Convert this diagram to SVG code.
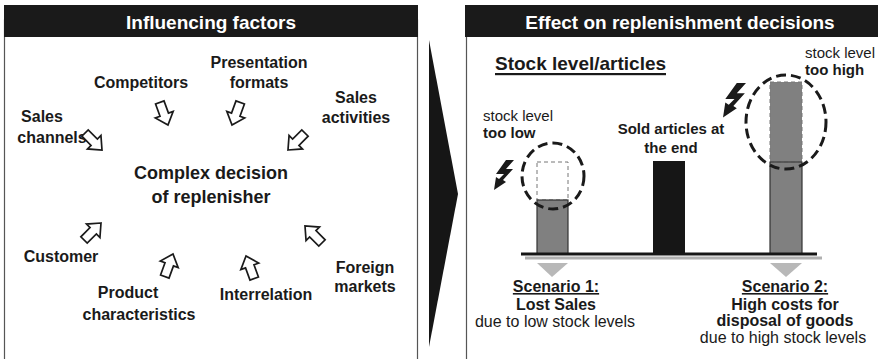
<svg xmlns="http://www.w3.org/2000/svg" width="878" height="359" viewBox="0 0 878 359">
  <defs>
    <style>
      text { font-family: "Liberation Sans", Arial, sans-serif; fill: #1a1a1a; }
      .hdr { font-size: 19px; font-weight: bold; fill: #ffffff; text-anchor: middle; }
      .f { font-size: 16px; font-weight: bold; text-anchor: middle; }
      .c { font-size: 18px; font-weight: bold; text-anchor: middle; }
      .b15 { font-size: 15px; font-weight: bold; }
      .r15 { font-size: 15px; }
      .s { font-size: 16px; text-anchor: middle; }
      .sb { font-size: 16px; font-weight: bold; text-anchor: middle; }
      .bar { fill: #1a1a1a; }
      .frame { fill: none; stroke: #555; stroke-width: 1.2; }
      .blk { fill: #ffffff; stroke: #1a1a1a; stroke-width: 1.7; stroke-linejoin: miter; }
      .ring { fill: none; stroke: #1a1a1a; stroke-width: 3; stroke-dasharray: 10 5; }
      .stock { fill: #808080; stroke: #333; stroke-width: 1.2; }
      .ghost { fill: none; stroke: #777; stroke-width: 1; stroke-dasharray: 4 3; }
      .tri { fill: #b8b8b8; }
      .bolt { fill: #1a1a1a; }
    </style>
    <!-- hollow block arrow, tip at origin, pointing down -->
    <polygon id="blockArrow" class="blk" points="0,0 9.5,-11 4.5,-11 4.5,-24 -4.5,-24 -4.5,-11 -9.5,-11"/>
    <!-- lightning bolt with arrowhead -->
    <polygon id="zap" class="bolt" points="12,0 20,0 12,9 19,9 9,20 12,22 0,30 2,17 5,19 10,14 2,14"/>
  </defs>

  <!-- left panel: influencing factors -->
  <g id="panel-factors">
    <rect class="frame" x="4.5" y="20" width="413" height="360"/>
    <rect class="bar" x="4" y="5" width="414" height="32"/>
    <text class="hdr" x="211" y="29">Influencing factors</text>
  </g>

  <!-- transition chevron -->
  <g id="chevron">
    <polygon fill="#161616" points="429,40 458,194 429,347"/>
  </g>

  <!-- right panel: effect on replenishment -->
  <g id="panel-effect">
    <line x1="466.5" y1="37" x2="466.5" y2="359" stroke="#555" stroke-width="1.2"/>
    <rect class="bar" x="465" y="5" width="413" height="32"/>
    <text class="hdr" x="680" y="29">Effect on replenishment decisions</text>
  </g>

  <!-- factor nodes -->
  <g id="factor-sales-channels">
    <text class="f" x="42" y="122">Sales</text>
    <text class="f" x="52" y="143">channels</text>
  </g>
  <g id="factor-competitors">
    <text class="f" x="141" y="88">Competitors</text>
  </g>
  <g id="factor-presentation">
    <text class="f" x="259" y="68">Presentation</text>
    <text class="f" x="259" y="88">formats</text>
  </g>
  <g id="factor-sales-activities">
    <text class="f" x="356" y="103">Sales</text>
    <text class="f" x="356" y="123">activities</text>
  </g>
  <g id="decision">
    <text class="c" x="211" y="179">Complex decision</text>
    <text class="c" x="211" y="203">of replenisher</text>
  </g>
  <g id="factor-customer">
    <text class="f" x="61" y="262">Customer</text>
  </g>
  <g id="factor-product">
    <text class="f" x="128" y="298">Product</text>
    <text class="f" x="139" y="320">characteristics</text>
  </g>
  <g id="factor-interrelation">
    <text class="f" x="266" y="300">Interrelation</text>
  </g>
  <g id="factor-foreign-markets">
    <text class="f" x="365" y="273">Foreign</text>
    <text class="f" x="365" y="292">markets</text>
  </g>

  <!-- connectors: block arrows pointing at the decision -->
  <g id="connectors">
    <use href="#blockArrow" transform="translate(102,150) rotate(-45)"/>
    <use href="#blockArrow" transform="translate(168,125) rotate(-20)"/>
    <use href="#blockArrow" transform="translate(232,125) rotate(20)"/>
    <use href="#blockArrow" transform="translate(288,150) rotate(45)"/>
    <use href="#blockArrow" transform="translate(101,223) rotate(225)"/>
    <use href="#blockArrow" transform="translate(173,254) rotate(200)"/>
    <use href="#blockArrow" transform="translate(246,256) rotate(160)"/>
    <use href="#blockArrow" transform="translate(305,226) rotate(135)"/>
  </g>

  <!-- stock level chart -->
  <g id="chart">
    <text class="b15" x="495" y="70" style="font-size:19px">Stock level/articles</text>
    <rect x="495" y="73" width="171" height="2.2" fill="#1a1a1a"/>

    <!-- scenario 1: stock too low -->
    <text class="r15" x="483" y="121">stock level</text>
    <text class="b15" x="483" y="138">too low</text>
    <use href="#zap" transform="translate(494,160)"/>
    <rect class="ghost" x="537" y="162" width="31" height="38"/>
    <rect class="stock" x="537" y="200" width="31" height="54"/>
    <ellipse class="ring" cx="553" cy="176" rx="31" ry="33"/>

    <!-- sold articles -->
    <text class="b15" x="671" y="134" text-anchor="middle">Sold articles at</text>
    <text class="b15" x="671" y="153" text-anchor="middle">the end</text>
    <rect x="653" y="161" width="32" height="93" fill="#161616"/>

    <!-- scenario 2: stock too high -->
    <text class="r15" x="805" y="58">stock level</text>
    <text class="b15" x="805" y="75">too high</text>
    <use href="#zap" transform="translate(723,83) scale(1.15)"/>
    <rect x="770" y="82" width="32" height="172" fill="#808080"/>
    <rect class="ghost" x="770" y="82" width="32" height="80"/>
    <path d="M770,254 V162 H802 V254" fill="none" stroke="#333" stroke-width="1.2"/>
    <ellipse class="ring" cx="786" cy="122" rx="40" ry="47"/>

    <!-- baseline -->
    <line x1="525" y1="258" x2="822" y2="258" stroke="#b0b0b0" stroke-width="3"/>
    <line x1="521" y1="254" x2="817" y2="254" stroke="#161616" stroke-width="3"/>

    <polygon class="tri" points="537,263 568,263 552,277"/>
    <polygon class="tri" points="770,263 802,263 786,277"/>
  </g>

  <!-- scenario captions -->
  <g id="scenario-1">
    <text class="sb" x="556" y="292" text-decoration="underline">Scenario 1:</text>
    <text class="sb" x="556" y="310">Lost Sales</text>
    <text class="s" x="555" y="327">due to low stock levels</text>
  </g>
  <g id="scenario-2">
    <text class="sb" x="785" y="292" text-decoration="underline">Scenario 2:</text>
    <text class="sb" x="785" y="310">High costs for</text>
    <text class="sb" x="785" y="326">disposal of goods</text>
    <text class="s" x="783" y="343">due to high stock levels</text>
  </g>
</svg>
